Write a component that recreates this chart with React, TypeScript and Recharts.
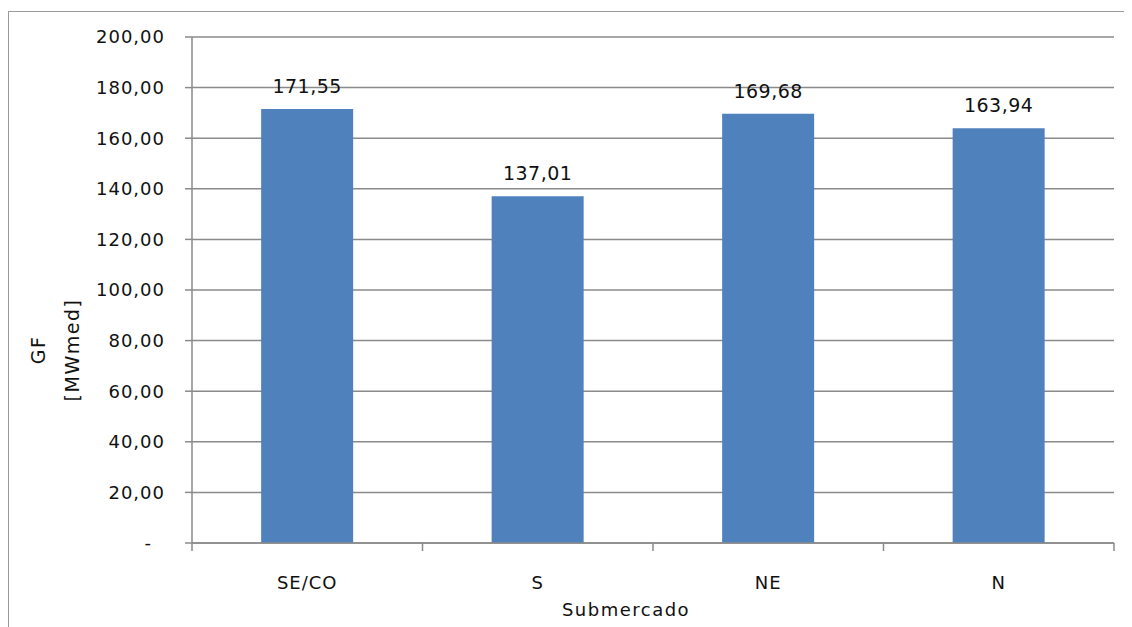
import React from "react";
import { BarChart, Bar, XAxis, YAxis, CartesianGrid, LabelList } from "recharts";

// Garantia física por submercado
const submercados = ["SE/CO", "S", "NE", "N"];
const gfValues = [171.55, 137.01, 169.68, 163.94];
const yTicks = [0, 20, 40, 60, 80, 100, 120, 140, 160, 180, 200];

const data = submercados.map((name, i) => ({ name, gf: gfValues[i] }));

const W = 1132;
const H = 627;
const PLOT_LEFT = 192;
const PLOT_RIGHT = 1114;
const PLOT_TOP = 37;
const X_AXIS_H = 84;
const BAND = (PLOT_RIGHT - PLOT_LEFT) / submercados.length;

const FONT = "'DejaVu Sans', Verdana, sans-serif";
const AXIS_GRAY = "#8a8a8a";
const TEXT = "#111";

const fmt = (v: number) => (v === 0 ? "-" : v.toFixed(2).replace(".", ","));

const YTick = (props: any) => {
  const { x, y, payload } = props;
  const v = payload.value as number;
  return (
    <text
      x={v === 0 ? x - 13 : x}
      y={y}
      dy="0.36em"
      textAnchor="end"
      fontFamily={FONT}
      fontSize={18}
      letterSpacing={1}
      fill={TEXT}
    >
      {fmt(v)}
    </text>
  );
};

const XTick = (props: any) => {
  const { x, y, payload, index } = props;
  const last = index === submercados.length - 1;
  return (
    <g>
      <line x1={x - BAND / 2} x2={x - BAND / 2} y1={y} y2={y + 8} stroke={AXIS_GRAY} strokeWidth={1.5} />
      {last && (
        <line x1={x + BAND / 2} x2={x + BAND / 2} y1={y} y2={y + 8} stroke={AXIS_GRAY} strokeWidth={1.5} />
      )}
      <text
        x={x}
        y={y + 40}
        dy="0.36em"
        textAnchor="middle"
        fontFamily={FONT}
        fontSize={18}
        letterSpacing={1}
        fill={TEXT}
      >
        {payload.value}
      </text>
    </g>
  );
};

const YTitle = () => (
  <g fontFamily={FONT} fontSize={19} fill={TEXT} letterSpacing={1.5}>
    <text x={38} y={350} transform="rotate(-90 38 350)" textAnchor="middle" dominantBaseline="central">
      GF
    </text>
    <text x={72} y={350} transform="rotate(-90 72 350)" textAnchor="middle" dominantBaseline="central">
      [MWmed]
    </text>
  </g>
);

const XTitle = () => (
  <text
    x={626}
    y={609}
    textAnchor="middle"
    dominantBaseline="central"
    fontFamily={FONT}
    fontSize={18}
    letterSpacing={1.5}
    fill={TEXT}
  >
    Submercado
  </text>
);

export default function App() {
  return (
    <div style={{ position: "relative", width: W, height: H, margin: "-8px 0 0 -8px", overflow: "hidden", background: "#fff" }}>
      <div
        style={{
          position: "absolute",
          left: 8,
          top: 11,
          width: W + 20,
          height: H + 20,
          border: "1.5px solid #9a9a9a",
          boxSizing: "border-box",
        }}
      />
      <div style={{ position: "absolute", left: 0, top: 0 }}>
        <BarChart
          width={W}
          height={H}
          data={data}
          margin={{ top: PLOT_TOP, right: W - PLOT_RIGHT, bottom: 0, left: 0 }}
          barCategoryGap="30%"
        >
          <CartesianGrid horizontal vertical={false} stroke={AXIS_GRAY} strokeWidth={1.5} />
          <XAxis
            dataKey="name"
            height={X_AXIS_H}
            axisLine={{ stroke: AXIS_GRAY, strokeWidth: 1.5 }}
            tickLine={false}
            tickSize={0}
            tickMargin={0}
            tick={<XTick />}
            interval={0}
            label={{ content: () => <XTitle /> }}
          />
          <YAxis
            width={PLOT_LEFT}
            domain={[0, 200]}
            ticks={yTicks}
            interval={0}
            axisLine={{ stroke: AXIS_GRAY, strokeWidth: 1.5 }}
            tickLine={{ stroke: AXIS_GRAY, strokeWidth: 1.5 }}
            tickSize={7}
            tickMargin={20}
            tick={<YTick />}
            label={{ content: () => <YTitle /> }}
          />
          <Bar dataKey="gf" fill="#4f81bd" isAnimationActive={false}>
            <LabelList
              dataKey="gf"
              position="top"
              offset={16}
              formatter={(v: any) => fmt(Number(v))}
              style={{ fontFamily: FONT, fontSize: 19, letterSpacing: 0.5, fill: TEXT }}
            />
          </Bar>
        </BarChart>
      </div>
    </div>
  );
}
